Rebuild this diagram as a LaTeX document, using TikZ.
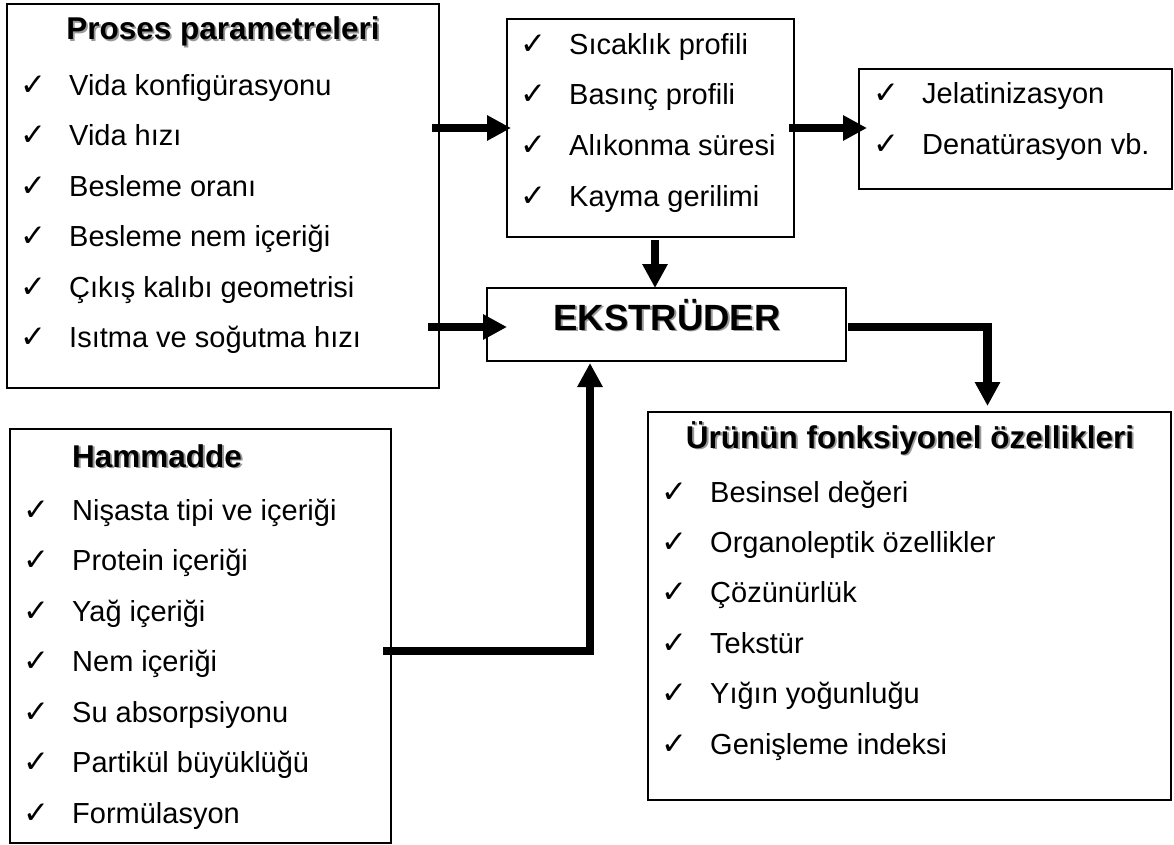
\documentclass[tikz,border=0pt]{standalone}
\usepackage{fontspec}
\setmainfont{Liberation Sans}
\newfontfamily\symfont{DejaVu Sans}
\usetikzlibrary{arrows.meta}
\newcommand\shd[1]{\makebox[0pt][l]{\kern1.8pt\raisebox{-1.8pt}{\textcolor{black!40}{#1}}}#1}
\tikzset{
 box/.style={draw=black, line width=1.7pt, outer sep=0pt, inner sep=0pt, anchor=north west},
 ttl/.style={font=\bfseries\fontsize{31.5}{36}\selectfont, inner sep=0pt},
 bigttl/.style={font=\bfseries\fontsize{36.5}{40}\selectfont, inner sep=0pt, anchor=base},
 itm/.style={font=\fontsize{29}{33}\selectfont, inner sep=0pt, anchor=base west},
 chk/.style={font=\symfont\fontsize{31}{33}\selectfont, inner sep=0pt, anchor=base},
 arr/.style={line width=8.5pt, -{Triangle[length=24pt,width=24pt]}, line join=miter},
}
\newcommand\lst[6]{% #1 prefix, #2 check x, #3 text x, #4 first baseline, #5 step, #6 list
 \foreach \itxt [count=\i] in {#6} {
   \node[chk] (#1c\i) at (#2, {#4+(\i-1)*#5}) {✓};
   \node[itm] (#1\i) at (#3, {#4+(\i-1)*#5}) {\itxt};
 }}
\begin{document}
\begin{tikzpicture}[x=1pt,y=-1pt]
\useasboundingbox (0,0) rectangle (1174,845);
% boxes
\node[box, minimum width=432pt, minimum height=384pt] (proses) at (7,4) {};
\node[box, minimum width=287pt, minimum height=218pt] (mid) at (507,19) {};
\node[box, minimum width=313pt, minimum height=120pt] (tr) at (859,69) {};
\node[box, minimum width=359pt, minimum height=73pt] (ext) at (487,288) {};
\node[box, minimum width=381pt, minimum height=414pt] (ham) at (10,429) {};
\node[box, minimum width=523pt, minimum height=388pt] (urun) at (648,412) {};
% titles
\node[ttl, anchor=base] (tproses) at (223,40) {\shd{Proses parametreleri}};
\node[ttl, anchor=base west] (tham) at (72,467) {\shd{Hammadde}};
\node[ttl, anchor=base] (turun) at (910,448) {\shd{Ürünün fonksiyonel özellikleri}};
\node[bigttl] (text) at (667,330) {\shd{EKSTRÜDER}};
% lists
\lst{p}{33}{69}{95.5}{50.4}{Vida konfigürasyonu,%
Vida hızı,%
Besleme oranı,%
Besleme nem içeriği,%
Çıkış kalıbı geometrisi,%
Isıtma ve soğutma hızı}
\lst{m}{533}{569}{54.5}{50.5}{Sıcaklık profili,%
Basınç profili,%
Alıkonma süresi,%
Kayma gerilimi}
\lst{r}{886}{922}{104}{51}{Jelatinizasyon,%
Denatürasyon vb.}
\lst{h}{36}{72}{520}{50.5}{Nişasta tipi ve içeriği,%
Protein içeriği,%
Yağ içeriği,%
Nem içeriği,%
Su absorpsiyonu,%
Partikül büyüklüğü,%
Formülasyon}
\lst{u}{674}{710}{502}{50.4}{Besinsel değeri,%
Organoleptik özellikler,%
Çözünürlük,%
Tekstür,%
Yığın yoğunluğu,%
Genişleme indeksi}
% connectors
\draw[arr] ([xshift=-7pt]proses.east |- mid.west) -- ([xshift=4pt]mid.west);
\draw[arr] ([xshift=-5pt]mid.east) -- ([xshift=8pt]tr.west |- mid.east);
\draw[arr] ([xshift=4.5pt,yshift=-3pt]mid.south) -- ([xshift=4.5pt]mid.south |- ext.north);
\draw[arr] ([xshift=-11pt,yshift=-2.5pt]proses.east |- ext.west) -- ([xshift=20pt,yshift=-2.5pt]ext.west);
\draw[arr] ([xshift=-8pt,yshift=-15pt]ham.east) -| ([xshift=-76.5pt,yshift=-2pt]ext.south);
\draw[arr] ([xshift=2pt,yshift=-2.5pt]ext.east) -| ([xshift=78pt,yshift=6pt]urun.north);
\end{tikzpicture}
\end{document}
